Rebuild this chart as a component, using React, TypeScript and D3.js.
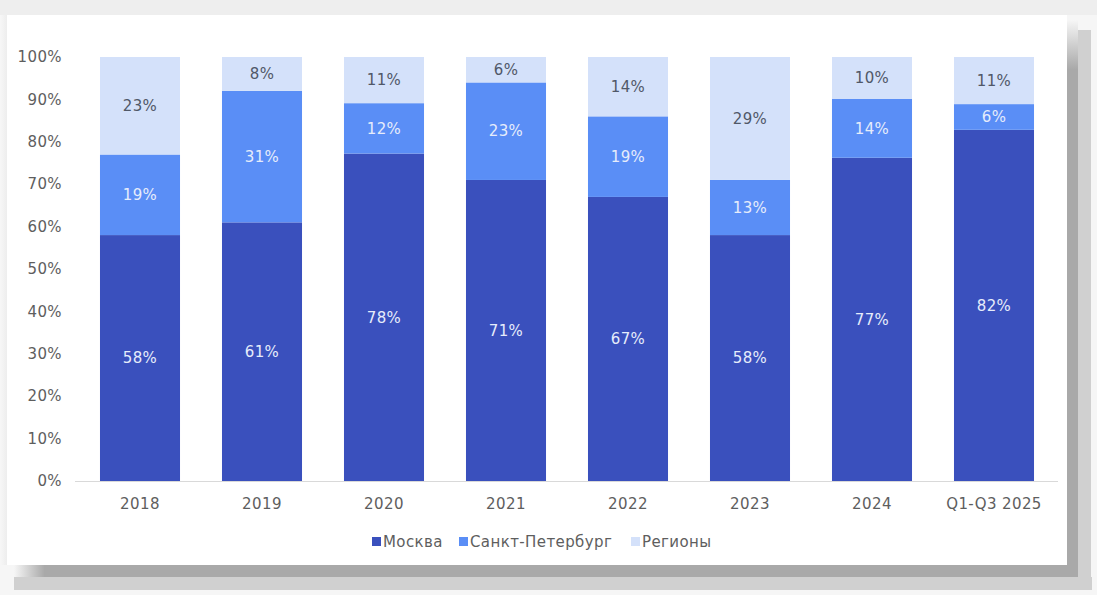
import React from "react";
import * as d3 from "d3";

const categories = ["2018", "2019", "2020", "2021", "2022", "2023", "2024", "Q1-Q3 2025"];
const moscow = [58, 61, 78, 71, 67, 58, 77, 82];
const spb = [19, 31, 12, 23, 19, 13, 14, 6];
const regions = [23, 8, 11, 6, 14, 29, 10, 11];
const seriesNames = ["Москва", "Санкт-Петербург", "Регионы"];
const seriesKeys = ["moscow", "spb", "regions"];
const colors = ["#3a50bd", "#5a8ef6", "#d4e1fa"];
const labelColors = ["#e6ecfb", "#e6ecfb", "#505868"];
const yTicks = [0, 0.1, 0.2, 0.3, 0.4, 0.5, 0.6, 0.7, 0.8, 0.9, 1.0];

const W = 1097;
const H = 595;
const FONT = "'DejaVu Sans', Verdana, sans-serif";
const FS = 15;
const LS = 0.4;

export default function App() {
  const rows = categories.map((c, i) => ({ cat: c, moscow: moscow[i], spb: spb[i], regions: regions[i] }));
  const stacked = d3.stack<any>().keys(seriesKeys).offset(d3.stackOffsetExpand)(rows);
  const x = d3.scaleBand().domain(categories).range([79, 1055]).paddingInner(0.344).paddingOuter(0.172);
  const y = d3.scaleLinear().domain([0, 1]).range([481, 57]);
  const fmt = d3.format(".0%");

  return (
    <svg width={W} height={H} style={{ position: "absolute", left: 0, top: 0 }} fontFamily={FONT} letterSpacing={LS}>
      <defs>
        <linearGradient id="leftFade" x1="0" x2="1" y1="0" y2="0">
          <stop offset="0" stopColor="#f7f7f7" />
          <stop offset="1" stopColor="#ececec" />
        </linearGradient>
        <linearGradient id="bottomFadeL" x1="0" x2="1" y1="0" y2="0">
          <stop offset="0" stopColor="#a8a8a8" stopOpacity="0" />
          <stop offset="1" stopColor="#a8a8a8" stopOpacity="1" />
        </linearGradient>
        <linearGradient id="rightFadeT" x1="0" x2="0" y1="0" y2="1">
          <stop offset="0" stopColor="#a8a8a8" stopOpacity="0" />
          <stop offset="1" stopColor="#a8a8a8" stopOpacity="1" />
        </linearGradient>
      </defs>
      <rect x={0} y={0} width={W} height={H} fill="#f6f6f6" />
      <rect x={0} y={0} width={W} height={15} fill="#eeeeee" />
      <rect x={0} y={15} width={8} height={550} fill="url(#leftFade)" />
      {/* shadow */}
      <rect x={14} y={577} width={1078} height={13} fill="#d0d0d0" />
      <rect x={1078} y={30} width={13} height={560} fill="#d0d0d0" />
      <rect x={45} y={565} width={1033} height={12} fill="#a9a9a9" />
      <rect x={14} y={565} width={31} height={12} fill="url(#bottomFadeL)" />
      <rect x={1067} y={70} width={11} height={507} fill="#a9a9a9" />
      <rect x={1067} y={20} width={11} height={50} fill="url(#rightFadeT)" />
      <rect x={7} y={15} width={1060} height={550} fill="#ffffff" />

      {/* axis baseline */}
      <line x1={75} x2={1058} y1={y(0) + 0.5} y2={y(0) + 0.5} stroke="#d9d9d9" strokeWidth={1} />

      {yTicks.map((t) => (
        <text key={t} x={62} y={y(t)} dy="0.35em" textAnchor="end" fontSize={FS} fill="#5e5e5e">
          {fmt(t)}
        </text>
      ))}

      {stacked.map((s, si) => (
        <g key={s.key}>
          {s.map((d, i) => (
            <rect
              key={i}
              x={x(categories[i])}
              width={x.bandwidth()}
              y={y(d[1])}
              height={y(d[0]) - y(d[1])}
              fill={colors[si]}
            />
          ))}
        </g>
      ))}

      {stacked.map((s, si) => (
        <g key={s.key + "l"}>
          {s.map((d, i) => (
            <text
              key={i}
              x={(x(categories[i]) as number) + x.bandwidth() / 2}
              y={(y(d[0]) + y(d[1])) / 2}
              dy="0.35em"
              textAnchor="middle"
              fontSize={FS}
              fill={labelColors[si]}
            >
              {(d.data as any)[s.key] + "%"}
            </text>
          ))}
        </g>
      ))}

      {categories.map((c) => (
        <text key={c} x={(x(c) as number) + x.bandwidth() / 2} y={504} dy="0.35em" textAnchor="middle" fontSize={FS} fill="#5e5e5e">
          {c}
        </text>
      ))}

      {(() => {
        const starts = [372, 459, 631];
        return seriesNames.map((n, i) => (
          <g key={n}>
            <rect x={starts[i]} y={537} width={9} height={9} fill={colors[i]} />
            <text x={starts[i] + 11} y={542} dy="0.35em" fontSize={FS} fill="#5e5e5e">
              {n}
            </text>
          </g>
        ));
      })()}
    </svg>
  );
}
